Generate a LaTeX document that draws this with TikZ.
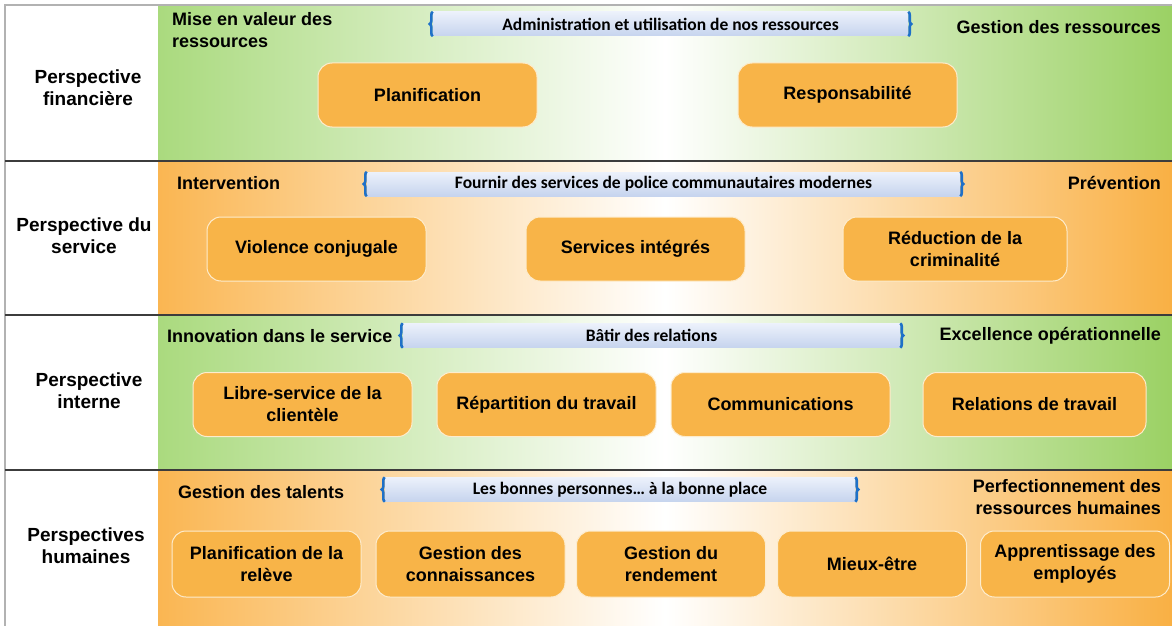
\documentclass[tikz,border=0pt]{standalone}
\usepackage{fontspec}
\setmainfont{Liberation Sans}
\newfontfamily\bannerfont{Carlito}
\usetikzlibrary{decorations.pathreplacing}

\definecolor{greenleft}{RGB}{170,218,126}
\definecolor{greenright}{RGB}{155,209,100}
\definecolor{orangeleft}{RGB}{250,182,82}
\definecolor{orangeright}{RGB}{249,176,68}
\definecolor{boxfill}{RGB}{248,180,72}
\definecolor{boxline}{RGB}{253,236,205}
\definecolor{bannertop}{RGB}{236,241,251}
\definecolor{bannerbottom}{RGB}{198,212,238}
\definecolor{bracecol}{RGB}{30,112,200}
\definecolor{sepline}{RGB}{60,60,60}

\tikzset{
  box/.style={draw=boxline, line width=1pt, fill=boxfill, rounded corners=14pt,
    minimum height=64pt, minimum width=219pt, align=center, inner sep=2pt,
    font=\fontsize{18}{22}\selectfont\bfseries},
  smallbox/.style={box, minimum width=189pt, minimum height=66pt},
  banner/.style={top color=bannertop, bottom color=bannerbottom, minimum height=24pt,
    inner sep=0pt, font=\bannerfont\fontsize{17.5}{20}\selectfont\bfseries},
  brace/.style={draw=bracecol, line width=2.6pt, decorate, decoration={brace, amplitude=3pt}},
  corner/.style={inner sep=0pt, font=\fontsize{18}{22}\selectfont\bfseries},
  persp/.style={align=center, inner sep=0pt, font=\fontsize{19}{22}\selectfont\bfseries}
}

\begin{document}
\begin{tikzpicture}[x=1pt,y=-1pt]
\useasboundingbox (0,0) rectangle (1172,626);

% bandes de couleur
\shade[left color=greenleft, right color=greenright, middle color=white] (158,5) rectangle (1172,161);
\shade[left color=orangeleft, right color=orangeright, middle color=white] (158,161) rectangle (1172,315);
\shade[left color=greenleft, right color=greenright, middle color=white] (158,315) rectangle (1172,470);
\shade[left color=orangeleft, right color=orangeright, middle color=white] (158,470) rectangle (1172,626);

% cadre
\draw[gray!60, line width=1.5pt] (5,626) -- (5,5) -- (1172,5);
\foreach \y in {161,315,470}
  \draw[sepline, line width=2pt] (5,\y) -- (1172,\y);

% perspectives
\node[persp] (fin) at (88,88) {Perspective\\financière};
\node[persp] (ser) at (84,236) {Perspective du\\service};
\node[persp] (int) at (89,391) {Perspective\\interne};
\node[persp] (hum) at (86,546) {Perspectives\\humaines};

% bandeaux
\node[banner, minimum width=475pt] (admi) at (670.5,24) {Administration et utilisation de nos ressources};
\node[banner, minimum width=593pt] (four) at (663.5,184) {Fournir des services de police communautaires modernes};
\node[banner, minimum width=497pt] (bati) at (651.5,335.5) {Bâtir des relations};
\node[banner, minimum width=470pt] (bonn) at (620,489.5) {Les bonnes personnes\dots\ à la bonne place};
\foreach \b in {admi,four,bati,bonn}{
  \draw[brace] (\b.south west) -- (\b.north west);
  \draw[brace] (\b.north east) -- (\b.south east);
}

% libelles des coins
\node[corner, anchor=west, align=left] (mise) at (172,30) {Mise en valeur des\\ressources};
\node[corner, anchor=east] (gres) at (1161,27) {Gestion des ressources};
\node[corner, anchor=west] (inte) at (177,183) {Intervention};
\node[corner, anchor=east] (prev) at (1161,183) {Prévention};
\node[corner, anchor=west] (inno) at (167,336) {Innovation dans le service};
\node[corner, anchor=east] (exce) at (1161,336) {Excellence opérationnelle};
\node[corner, anchor=west] (tale) at (178,492) {Gestion des talents};
\node[corner, anchor=east, align=right] (perf) at (1161,497) {Perfectionnement des\\ressources humaines};

% objectifs
\node[box] (plan) at (427.5,95) {Planification};
\node[box] (resp) at (847.5,95) {Responsabilité};

\node[box] (viol) at (316.5,249) {Violence conjugale};
\node[box] (sint) at (635.5,249) {Services intégrés};
\node[box, minimum width=224pt] (redu) at (955,249) {Réduction de la\\criminalité};

\node[box] (libr) at (302.5,404.5) {Libre-service de la\\clientèle};
\node[box] (repa) at (546.5,404.5) {Répartition du travail};
\node[box] (comm) at (780.5,404.5) {Communications};
\node[box, minimum width=223pt] (rela) at (1034.5,404.5) {Relations de travail};

\node[smallbox] (rele) at (266.5,564) {Planification de la\\relève};
\node[smallbox] (conn) at (470.5,564) {Gestion des\\connaissances};
\node[smallbox] (rend) at (671,564) {Gestion du\\rendement};
\node[smallbox] (mieu) at (872,564) {Mieux-être};
\node[smallbox] (appr) at (1075,564) {Apprentissage des\\employés};
\end{tikzpicture}
\end{document}
